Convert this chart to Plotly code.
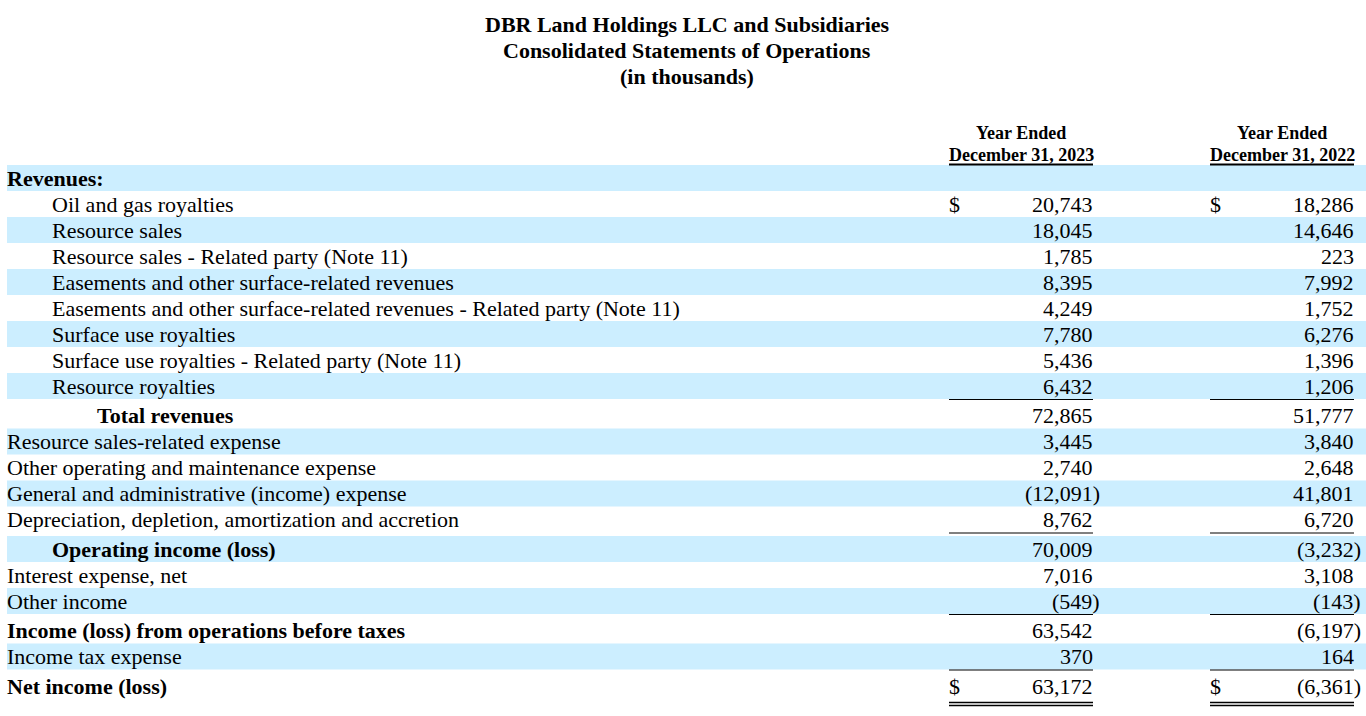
import plotly.graph_objects as go

title_lines = ["DBR Land Holdings LLC and Subsidiaries",
               "Consolidated Statements of Operations",
               "(in thousands)"]
col_headers = [["Year Ended", "December 31, 2023"],
               ["Year Ended", "December 31, 2022"]]

labels = [
    "Revenues:",
    "Oil and gas royalties",
    "Resource sales",
    "Resource sales - Related party (Note 11)",
    "Easements and other surface-related revenues",
    "Easements and other surface-related revenues - Related party (Note 11)",
    "Surface use royalties",
    "Surface use royalties - Related party (Note 11)",
    "Resource royalties",
    "Total revenues",
    "Resource sales-related expense",
    "Other operating and maintenance expense",
    "General and administrative (income) expense",
    "Depreciation, depletion, amortization and accretion",
    "Operating income (loss)",
    "Interest expense, net",
    "Other income",
    "Income (loss) from operations before taxes",
    "Income tax expense",
    "Net income (loss)",
]
v2023 = [None, 20743, 18045, 1785, 8395, 4249, 7780, 5436, 6432, 72865,
         3445, 2740, -12091, 8762, 70009, 7016, -549, 63542, 370, 63172]
v2022 = [None, 18286, 14646, 223, 7992, 1752, 6276, 1396, 1206, 51777,
         3840, 2648, 41801, 6720, -3232, 3108, -143, -6197, 164, -6361]
indent = [0, 1, 1, 1, 1, 1, 1, 1, 1, 2, 0, 0, 0, 0, 1, 0, 0, 0, 0, 0]
bold_rows = {0, 9, 14, 17, 19}
dollar_rows = {1, 19}
underline_after = {8, 13, 16, 18}

W, H = 1366, 716
BLUE = "#CCEEFF"
FONT = "Liberation Serif, Times New Roman, serif"
BODY = 22
ROW_H = 26
GAP = 3.5
PAD = 2  # annotation box padding
cols = [dict(left=949, right=1093), dict(left=1210, right=1354)]
indent_x = [7, 52, 97]


def fmt(v):
    if v is None:
        return ""
    if v < 0:
        return "({:,})".format(-v)
    return "{:,}".format(v)


fig = go.Figure()
shapes = []
ann = []

for k, t in enumerate(title_lines):
    ann.append(dict(x=687, y=24.5 + 26 * k, text="<b>%s</b>" % t, showarrow=False,
                    xanchor="center", yanchor="middle",
                    font=dict(family=FONT, size=22, color="black")))

for c, hdr in zip(cols, col_headers):
    mid = (c["left"] + c["right"]) / 2
    for k, t in enumerate(hdr):
        ann.append(dict(x=mid, y=132.5 + 22 * k, text="<b>%s</b>" % t, showarrow=False,
                        xanchor="center", yanchor="middle",
                        font=dict(family=FONT, size=18, color="black")))
    shapes.append(dict(type="line", x0=c["left"], x1=c["right"],
                       y0=164.5, y1=164.5, line=dict(color="black", width=2)))

top = 165
for i, lab in enumerate(labels):
    mid_y = top + ROW_H / 2
    if i % 2 == 0:
        shapes.append(dict(type="rect", x0=7, x1=W, y0=top, y1=top + ROW_H,
                           fillcolor=BLUE, line=dict(width=0), layer="below"))
    txt = "<b>%s</b>" % lab if i in bold_rows else lab
    ann.append(dict(x=indent_x[indent[i]] - PAD, y=mid_y, text=txt, showarrow=False,
                    xanchor="left", yanchor="middle",
                    font=dict(family=FONT, size=BODY, color="black")))
    for c, vals in zip(cols, [v2023, v2022]):
        v = vals[i]
        if v is None:
            continue
        xr = c["right"] + PAD + (7 if v < 0 else 0)
        ann.append(dict(x=xr, y=mid_y, text=fmt(v), showarrow=False,
                        xanchor="right", yanchor="middle",
                        font=dict(family=FONT, size=BODY, color="black")))
        if i in dollar_rows:
            ann.append(dict(x=c["left"] - PAD, y=mid_y, text="$", showarrow=False,
                            xanchor="left", yanchor="middle",
                            font=dict(family=FONT, size=BODY, color="black")))
    top += ROW_H
    if i in underline_after:
        for c in cols:
            shapes.append(dict(type="line", x0=c["left"], x1=c["right"],
                               y0=top + 0.5, y1=top + 0.5, line=dict(color="black", width=1)))
        top += GAP

for c in cols:
    for dy in (3.5, 6.5):
        shapes.append(dict(type="line", x0=c["left"], x1=c["right"],
                           y0=top + dy, y1=top + dy, line=dict(color="black", width=1.5)))

fig.update_layout(
    width=W, height=H,
    margin=dict(l=0, r=0, t=0, b=0),
    paper_bgcolor="white", plot_bgcolor="white",
    xaxis=dict(range=[0, W], visible=False, fixedrange=True),
    yaxis=dict(range=[H, 0], visible=False, fixedrange=True),
    shapes=shapes, annotations=ann, showlegend=False,
)

fig.write_html("out.html", config={"displayModeBar": False},
               post_script="document.body.style.margin='0px';")
